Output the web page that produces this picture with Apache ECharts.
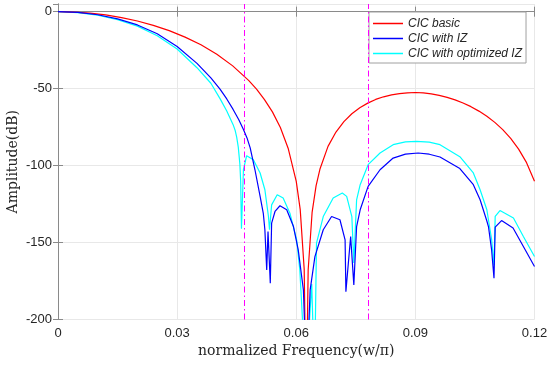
<!DOCTYPE html>
<html>
<head>
<meta charset="utf-8">
<script src="https://cdn.jsdelivr.net/npm/echarts@6/dist/echarts.min.js"></script>
<style>html,body{margin:0;padding:0;background:#fff;}#c{width:550px;height:365px;}</style>
</head>
<body>
<div id="c"></div>
<script>
// ---- data ----
const xTicks = [0, 0.03, 0.06, 0.09, 0.12];
const yTicks = [-200, -150, -100, -50, 0];
const markerFreqs = [0.046875, 0.078125];
const seriesNames = ['CIC basic', 'CIC with IZ', 'CIC with optimized IZ'];

const basicFreq = [0,0.004,0.008,0.012,0.016,0.020,0.024,0.028,0.032,0.036,0.040,0.044,0.048,0.050,0.052,0.054,0.056,0.058,0.060,0.061,0.062,0.0625,0.063,0.064,0.065,0.066,0.068,0.070,0.072,0.074,0.076,0.078,0.080,0.082,0.084,0.086,0.088,0.090,0.092,0.094,0.096,0.098,0.100,0.102,0.104,0.106,0.108,0.110,0.112,0.114,0.116,0.118,0.120];
const basicDb = [0,-0.23,-0.94,-2.12,-3.82,-6.04,-8.85,-12.3,-16.5,-21.5,-27.6,-35.2,-44.6,-50.3,-57.1,-65.1,-75.3,-89.1,-110.3,-128.6,-167.3,-260,-167.8,-130.2,-113,-102,-87.5,-78.2,-71.4,-66.3,-62.4,-59.4,-57.0,-55.3,-54.0,-53.2,-52.7,-52.5,-52.8,-53.4,-54.4,-55.7,-57.3,-59.3,-61.7,-64.6,-67.9,-71.9,-76.6,-82.3,-89.3,-98.1,-110.2];

const izFreq = [0,0.005,0.010,0.015,0.020,0.025,0.030,0.035,0.0385,0.0408,0.0425,0.0441,0.0455,0.0467,0.0476,0.0484,0.0496,0.0509,0.0517,0.0521,0.05256,0.05289,0.05346,0.0538,0.05465,0.0559,0.0576,0.0593,0.0605,0.0618,0.0626,0.0635,0.0647,0.0668,0.0689,0.0710,0.0723,0.0725,0.0737,0.0745,0.0752,0.0761,0.0781,0.0811,0.0844,0.0875,0.0907,0.0935,0.0962,0.1012,0.1046,0.1063,0.1080,0.1084,0.1092,0.1098,0.1101,0.1117,0.1146,0.1172,0.1200];
const izDb = [0,-0.5,-2.0,-4.7,-8.6,-14.3,-22.6,-33.6,-43,-50.3,-56.7,-63.5,-70,-76.6,-82,-88.5,-102.7,-120,-131,-141.7,-167.8,-142.8,-176.4,-137.4,-129.8,-126.1,-128.7,-139.6,-154.8,-180.8,-240,-180.8,-159.1,-141.7,-133.1,-135.2,-148.2,-181.9,-146.1,-177.5,-139.6,-128.7,-113.5,-102.7,-95.1,-92.5,-91.8,-92.6,-94.4,-101.9,-112.4,-122.2,-136,-139.6,-154.8,-173.2,-140,-135.7,-140.6,-152.6,-165.6];

const optFreq = [0,0.005,0.010,0.015,0.020,0.025,0.030,0.035,0.0385,0.0408,0.0425,0.0441,0.0446,0.0450,0.0454,0.0458,0.0460,0.0462,0.0467,0.0475,0.0492,0.0509,0.0521,0.0530,0.05326,0.0538,0.0552,0.0567,0.0584,0.0601,0.0609,0.0624,0.0639,0.0646,0.0651,0.0668,0.0693,0.0716,0.0727,0.0740,0.0745,0.0752,0.0761,0.0781,0.0811,0.0844,0.0875,0.0903,0.0935,0.0962,0.1012,0.1046,0.1063,0.1080,0.1092,0.1098,0.1101,0.1113,0.1147,0.1172,0.1200];
const optDb = [0,-0.55,-2.3,-5.2,-9.4,-15.6,-24.2,-36.4,-46.5,-56.5,-64.5,-73.4,-77,-81.5,-88,-99,-110,-141,-102.7,-93.6,-96.2,-104.8,-115.7,-133.1,-141.7,-125.5,-118.9,-121.1,-130.9,-148.2,-167.8,-240,-176.9,-240,-150.4,-133.1,-121.1,-117.8,-120,-133.1,-163.2,-122.2,-112.4,-99.4,-91.8,-86.4,-84.6,-84.2,-84.8,-86.4,-94.2,-104.8,-115.7,-128.7,-148,-164.5,-133,-129.2,-134.1,-146.1,-159.1];

function pairs(xs, ys) { return xs.map((x, i) => [x, ys[i]]); }

const chart = echarts.init(document.getElementById('c'), null, {renderer: 'canvas'});
const axisCol = '#8a8a8a';
const gridCol = '#e8e8e8';
const labelFont = {fontFamily: 'Liberation Sans, Arial, sans-serif', fontSize: 13, color: '#262626'};
const nameFont = {fontFamily: 'DejaVu Serif, serif', fontSize: 14, color: '#262626'};

function fmt(v) { return String(Math.round(v * 1000) / 1000); }

const option = {
  animation: false,
  backgroundColor: '#fff',
  grid: {left: 58, right: 15.5, top: 4, bottom: 45.5, containLabel: false, outerBoundsMode: 'none'},
  legend: {
    orient: 'vertical',
    left: 369, top: 12,
    padding: [4, 4, 2, 4],
    itemGap: 0,
    itemWidth: 30, itemHeight: 1.5,
    icon: 'rect',
    backgroundColor: '#fff',
    borderColor: '#a0a0a0', borderWidth: 1, borderRadius: 0,
    textStyle: {fontFamily: 'Liberation Sans, Arial, sans-serif', fontStyle: 'italic', fontSize: 12, color: '#262626', lineHeight: 15},
    data: seriesNames
  },
  xAxis: [{
    type: 'value', min: xTicks[0], max: xTicks[xTicks.length - 1], interval: xTicks[1] - xTicks[0],
    name: 'normalized Frequency(w/\u03c0)', nameLocation: 'middle', nameGap: 25, nameMoveOverlap: false, nameTextStyle: nameFont,
    axisLine: {show: true, lineStyle: {color: axisCol, width: 1}},
    axisTick: {show: true, inside: true, length: 5, lineStyle: {color: axisCol}},
    axisLabel: Object.assign({margin: 7, formatter: fmt}, labelFont),
    splitLine: {show: true, lineStyle: {color: gridCol, width: 1}}
  }, {
    type: 'value', position: 'top', min: xTicks[0], max: xTicks[xTicks.length - 1], interval: xTicks[1] - xTicks[0],
    axisLine: {show: true, lineStyle: {color: axisCol, width: 1}},
    axisTick: {show: true, inside: true, length: 5, lineStyle: {color: axisCol}},
    axisLabel: {show: false}, splitLine: {show: false}
  }],
  yAxis: [{
    type: 'value', min: yTicks[0], max: 5, interval: yTicks[1] - yTicks[0],
    name: 'Amplitude(dB)', nameLocation: 'middle', nameGap: 38, nameMoveOverlap: false, nameTextStyle: nameFont,
    axisLine: {show: true, lineStyle: {color: axisCol, width: 1}},
    axisTick: {show: true, inside: true, length: 5, lineStyle: {color: axisCol}},
    axisLabel: Object.assign({margin: 6, showMaxLabel: false, formatter: v => (v > 0 ? '' : String(v))}, labelFont),
    splitLine: {show: true, lineStyle: {color: gridCol, width: 1}}
  }, {
    type: 'value', position: 'right', min: yTicks[0], max: 5, interval: yTicks[1] - yTicks[0],
    axisLine: {show: true, lineStyle: {color: axisCol, width: 1}},
    axisTick: {show: true, inside: true, length: 5, lineStyle: {color: axisCol}},
    axisLabel: {show: false}, splitLine: {show: false}
  }],
  series: [{
    name: seriesNames[0], type: 'line', data: pairs(basicFreq, basicDb), symbol: 'none', clip: true,
    lineStyle: {color: '#ff0000', width: 1.2}, itemStyle: {color: '#ff0000'}, z: 3,
    markLine: {
      silent: true, symbol: ['none', 'none'], label: {show: false}, animation: false, precision: 6,
      lineStyle: {color: '#ff00ff', width: 1, type: [6, 3, 1.5, 3]},
      data: markerFreqs.map(f => ({xAxis: f}))
    }
  }, {
    name: seriesNames[1], type: 'line', data: pairs(izFreq, izDb), symbol: 'none', clip: true,
    lineStyle: {color: '#0000ff', width: 1.2}, itemStyle: {color: '#0000ff'}, z: 4
  }, {
    name: seriesNames[2], type: 'line', data: pairs(optFreq, optDb), symbol: 'none', clip: true,
    lineStyle: {color: '#00ffff', width: 1.2}, itemStyle: {color: '#00ffff'}, z: 2
  }]
};
chart.setOption(option);
</script>
</body>
</html>
